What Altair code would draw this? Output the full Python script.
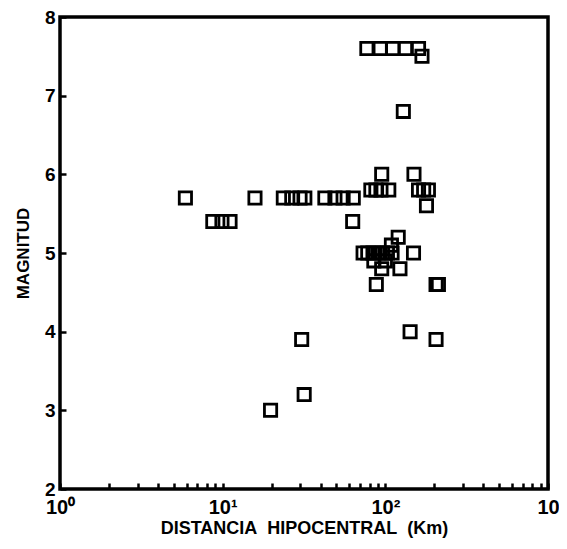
import altair as alt
import pandas as pd

# Hypocentral distance (km) and magnitude
distancia = [
    77, 93, 111, 133, 160,          # M 7.6
    168,                            # M 7.5
    129,                            # M 6.8
    95, 150,                        # M 6.0
    81.5, 87.5, 94, 105, 160, 172, 184,   # M 5.8
    179,                            # M 5.6
    5.9, 15.8, 23.6, 26.6, 29.9, 32, 42.5, 49, 55, 63.5,  # M 5.7
    8.7, 9.9, 11.1, 63,             # M 5.4
    120,                            # M 5.2
    109,                            # M 5.1
    73, 78, 84, 90, 96, 103, 110, 149,  # M 5.0
    85, 100,                        # M 4.9
    95, 123,                        # M 4.8
    88, 205, 212,                   # M 4.6
    142,                            # M 4.0
    30.6, 205,                      # M 3.9
    31.7,                           # M 3.2
    19.7,                           # M 3.0
]
magnitud = [
    7.6, 7.6, 7.6, 7.6, 7.6,
    7.5,
    6.8,
    6.0, 6.0,
    5.8, 5.8, 5.8, 5.8, 5.8, 5.8, 5.8,
    5.6,
    5.7, 5.7, 5.7, 5.7, 5.7, 5.7, 5.7, 5.7, 5.7, 5.7,
    5.4, 5.4, 5.4, 5.4,
    5.2,
    5.1,
    5.0, 5.0, 5.0, 5.0, 5.0, 5.0, 5.0, 5.0,
    4.9, 4.9,
    4.8, 4.8,
    4.6, 4.6, 4.6,
    4.0,
    3.9, 3.9,
    3.2,
    3.0,
]

x_ticks = [1, 2, 3, 4, 5, 6, 7, 8, 9,
           10, 20, 30, 40, 50, 60, 70, 80, 90,
           100, 200, 300, 400, 500, 600, 700, 800, 900, 1000]
y_ticks = [2, 3, 4, 5, 6, 7, 8]

df = pd.DataFrame({"dist": distancia, "mag": magnitud})

FONT = "Liberation Sans"
SP = "\u00a0\u00a0"

chart = (
    alt.Chart(df)
    .mark_point(shape="square", filled=False, color="black", size=150, strokeWidth=2.8, opacity=1)
    .encode(
        x=alt.X(
            "dist:Q",
            scale=alt.Scale(type="log", domain=[1, 1000], nice=False),
            axis=alt.Axis(
                title=f"DISTANCIA{SP}HIPOCENTRAL{SP}(Km)",
                values=x_ticks,
                labelExpr="datum.value == 1 ? '10⁰' : datum.value == 10 ? '10¹' : datum.value == 100 ? '10²' : datum.value == 1000 ? '10' : ''",
                labelOverlap=False,
                labelFlush=False,
                grid=False,
                domain=False,
                offset=-6,
                tickSize=6,
                tickWidth=2.5,
                tickColor="black",
                labelPadding=8,
                labelFont=FONT,
                labelFontSize=20,
                labelFontWeight="bold",
                labelColor="black",
                titleFont=FONT,
                titleFontSize=18,
                titleFontWeight="bold",
                titleColor="black",
                titlePadding=2,
            ),
        ),
        y=alt.Y(
            "mag:Q",
            scale=alt.Scale(domain=[2, 8], nice=False, zero=False),
            axis=alt.Axis(
                title="MAGNITUD",
                values=y_ticks,
                format="d",
                labelOverlap=False,
                labelFlush=False,
                grid=False,
                domain=False,
                offset=-6,
                tickSize=6,
                tickWidth=2.5,
                tickColor="black",
                labelPadding=5,
                labelFont=FONT,
                labelFontSize=19,
                labelFontWeight="bold",
                labelColor="black",
                titleFont=FONT,
                titleFontSize=17,
                titleFontWeight="bold",
                titleColor="black",
                titlePadding=12,
            ),
        ),
    )
    .properties(
        width=488,
        height=472,
        background="white",
        autosize=alt.AutoSizeParams(type="none"),
        padding={"left": 52, "top": 9, "right": 11, "bottom": 52},
    )
    .configure_view(stroke="black", strokeWidth=3.5)
)

chart.save("out.html", embed_options={"renderer": "svg", "actions": False})
